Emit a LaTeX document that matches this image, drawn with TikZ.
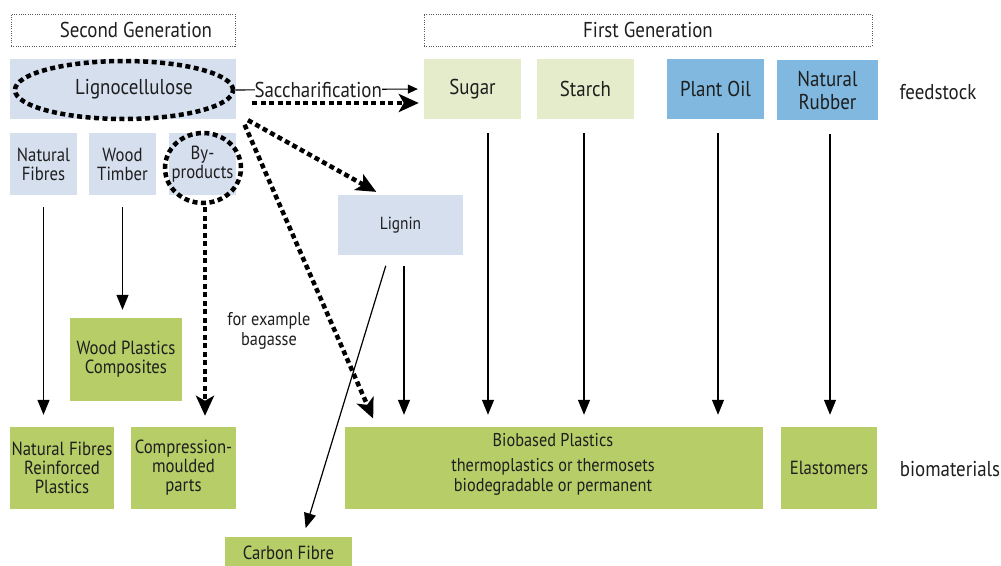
\documentclass[tikz,border=0pt]{standalone}
\usepackage{fontspec}
\setmainfont[FakeStretch=0.88]{PT Sans}
\usetikzlibrary{arrows.meta,shapes.geometric}
\definecolor{lblue}{RGB}{214,223,238}
\definecolor{lgreen}{RGB}{228,236,204}
\definecolor{mblue}{RGB}{128,184,223}
\definecolor{dgreen}{RGB}{183,205,104}
\definecolor{txt}{RGB}{30,30,30}
\begin{document}
\begin{tikzpicture}[x=1pt,y=-1pt,
  box/.style={inner sep=0pt, align=center, text=txt},
  bluebox/.style={box, fill=lblue},
  sugarbox/.style={box, fill=lgreen},
  oilbox/.style={box, fill=mblue},
  greenbox/.style={box, fill=dgreen},
  genbox/.style={box, draw=black!65, dash pattern=on 1pt off 1.3pt, line width=0.8pt},
  big/.style={font=\fontsize{21.5}{23}\selectfont},
  mid/.style={font=\fontsize{19}{19}\selectfont},
  small/.style={font=\fontsize{18.5}{20}\selectfont},
  plain/.style={inner sep=0pt, text=txt, align=center},
  arr/.style={line width=1.2pt, -{Triangle[length=15pt,width=12pt]}},
  thickdash/.style={line width=4.5pt, dash pattern=on 5pt off 3.5pt},
  darr/.style={thickdash, -{Stealth[length=20pt,width=18pt,inset=5pt]}},
]
\useasboundingbox (0,0) rectangle (1001,565);

% generation headers
\node[genbox, minimum width=224pt, minimum height=32pt] (sg) at (123,30) {};
\node[plain, big] (sgt) at (136,30) {Second Generation};
\node[genbox, minimum width=448pt, minimum height=32pt, big] (fg) at (648,30) {First Generation};

% feedstock row
\node[bluebox, minimum width=226pt, minimum height=60pt] (lig) at (123,89) {};
\node[thickdash, draw=black, ellipse, minimum width=218pt, minimum height=58pt] (ell) at (124,90) {};
\node[plain, big] (ligt) at (134,89) {Lignocellulose};

\node[sugarbox, big, minimum width=97pt, minimum height=60pt] (sugar) at (472.5,89) {Sugar};
\node[sugarbox, big, minimum width=97pt, minimum height=60pt] (starch) at (585.5,89) {Starch};
\node[oilbox, big, minimum width=97pt, minimum height=60pt] (oil) at (715.5,89) {Plant Oil};
\node[oilbox, big, minimum width=101pt, minimum height=60pt] (rubber) at (827.5,90) {Natural\\Rubber};
\node[plain, big] (feed) at (938,92) {feedstock};

\node[bluebox, mid, minimum width=67pt, minimum height=62pt] (nf) at (43.5,164) {Natural\\Fibres};
\node[bluebox, mid, minimum width=67pt, minimum height=62pt] (wt) at (122.5,164) {Wood\\Timber};
\node[bluebox, mid, minimum width=67pt, minimum height=62pt] (bp) at (202.5,164) {By-\\products};
\node[thickdash, draw=black, ellipse, minimum width=76pt, minimum height=70pt] (circ) at (203,168) {};

\node[bluebox, font=\fontsize{17.5}{20}\selectfont, minimum width=125pt, minimum height=60pt] (lign) at (400.5,225) {Lignin};

% products
\node[greenbox, mid, minimum width=112pt, minimum height=83pt] (wpc) at (126,359.5) {Wood Plastics\\Composites};
\node[greenbox, mid, minimum width=104pt, minimum height=82pt] (nfrp) at (62,468) {Natural Fibres\\Reinforced\\Plastics};
\node[greenbox, mid, minimum width=105pt, minimum height=82pt] (cmp) at (183.5,468) {Compression-\\moulded\\parts};
\node[greenbox, mid, minimum width=127pt, minimum height=36pt] (cf) at (288.5,555) {};
\node[plain, mid] (cft) at (288.5,553) {Carbon Fibre};
\node[greenbox, minimum width=418pt, minimum height=82pt] (bio) at (554,468) {};
\node[plain, small] (biot) at (553,440) {Biobased Plastics};
\node[plain, small] (biot2) at (553,477) {thermoplastics or thermosets\\biodegradable or permanent};
\node[greenbox, mid, minimum width=96pt, minimum height=82pt] (elast) at (829,468) {Elastomers};
\node[plain, big] (biom) at (950,469) {biomaterials};

\node[plain, small] (bag) at (269,331) {for example\\bagasse};

% thin arrows
\draw[arr, shorten <=12pt, shorten >=12pt] (nf.south) -- (nf.south |- nfrp.north);
\draw[arr, shorten <=12pt, shorten >=8pt] (wt.south) -- (wt.south |- wpc.north);
\draw[arr, shorten <=14pt, shorten >=12pt] ([xshift=15.5pt]sugar.south) -- ([xshift=15.5pt]sugar.south |- bio.north);
\draw[arr, shorten <=14pt, shorten >=12pt] ([xshift=-1.5pt]starch.south) -- ([xshift=-1.5pt]starch.south |- bio.north);
\draw[arr, shorten <=14pt, shorten >=12pt] ([xshift=2.5pt]oil.south) -- ([xshift=2.5pt]oil.south |- bio.north);
\draw[arr, shorten <=14pt, shorten >=12pt] ([xshift=2.5pt]rubber.south) -- ([xshift=2.5pt]rubber.south |- elast.north);
\draw[arr, shorten <=11pt, shorten >=12pt] ([xshift=3.5pt]lign.south) -- ([xshift=3.5pt]lign.south |- bio.north);
\draw[arr, shorten <=11pt, shorten >=9pt] ([xshift=-11.5pt]lign.south) -- ([xshift=14.5pt]cf.north);

% saccharification
\draw[line width=1.1pt, -{Triangle[length=10pt,width=9pt]}, shorten >=6pt] (ell.east) -- node[pos=0.44, fill=white, inner sep=3pt, plain, big] (sac) {Saccharification} (sugar.west);
\draw[darr, shorten >=5pt] ([xshift=17pt,yshift=-13pt]ell.east) -- ([yshift=-14pt]sugar.west);

% thick dashed arrows
\draw[darr, shorten <=2pt, shorten >=6pt] ([xshift=10pt,yshift=0pt]lig.south east) -- ([xshift=-19pt]lign.north);
\draw[darr, shorten <=6pt, shorten >=9pt] ([xshift=6pt]lig.south east) -- ([xshift=32pt]bio.north west);
\draw[darr, shorten <=2pt, shorten >=11pt] ([xshift=2pt]circ.south) -- ([xshift=2pt]circ.south |- cmp.north);
\end{tikzpicture}
\end{document}
